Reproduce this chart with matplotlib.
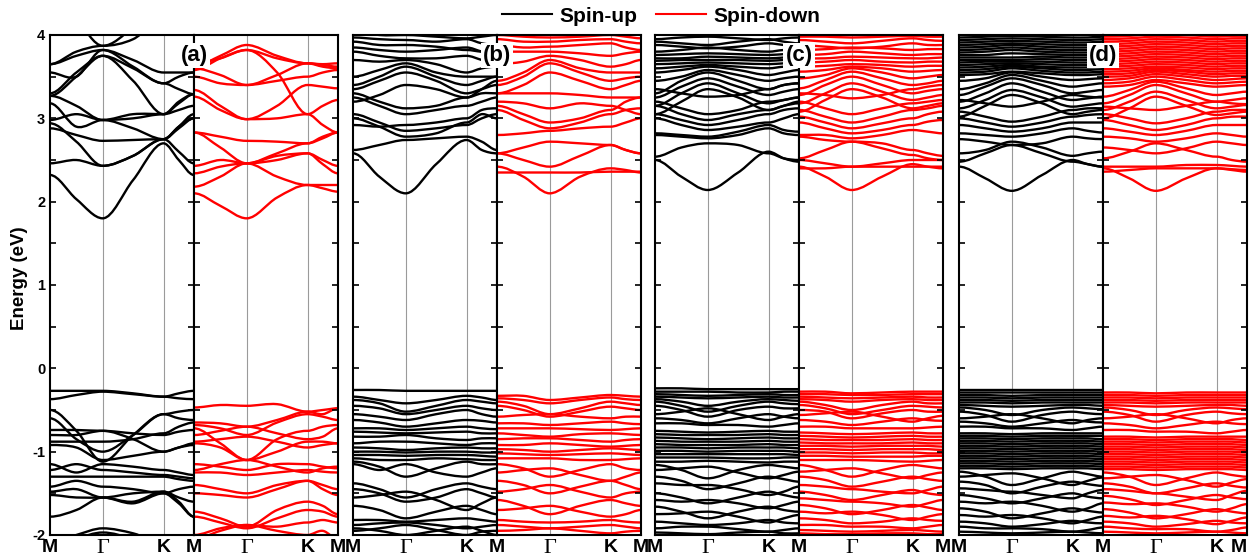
import numpy as np
import matplotlib.pyplot as plt
from matplotlib.lines import Line2D
from matplotlib.path import Path
from matplotlib.patches import PathPatch
from matplotlib.ticker import MultipleLocator

plt.rcParams['font.family'] = ['Liberation Sans', 'DejaVu Sans']
plt.rcParams['font.weight'] = 'bold'
plt.rcParams['axes.unicode_minus'] = False

# k path M - Gamma - K - M, energies read at M, mid, Gamma, mid, K, mid, M
kpts = [0.0, 0.433, 0.866, 1.366, 1.866, 2.116, 2.366]
hsym = [0.0, 0.866, 1.866, 2.366]
hsym_labels = ['M', 'Γ', 'K', 'M']
hsym_idx = {0, 2, 4, 6}   # flat bands at the high-symmetry points

##########  panel (a)

a_up = [
    [2.32, 2.03, 1.80, 2.26, 2.70, 2.50, 2.32],
    [2.46, 2.50, 2.43, 2.55, 2.75, 2.60, 2.46],
    [2.94, 2.72, 2.43, 2.55, 2.75, 2.88, 3.00],
    [2.88, 2.80, 2.73, 2.74, 2.75, 2.90, 3.05],
    [3.18, 2.90, 2.98, 3.05, 3.05, 3.10, 3.15],
    [2.98, 3.05, 2.98, 2.88, 2.75, 2.90, 3.00],
    [3.27, 3.15, 2.98, 3.00, 3.05, 3.18, 3.29],
    [3.27, 3.50, 3.75, 3.45, 3.05, 3.20, 3.29],
    [3.55, 3.50, 3.82, 3.62, 3.42, 3.50, 3.55],
    [3.65, 3.75, 3.82, 3.70, 3.55, 3.55, 3.55],
    [3.30, 3.55, 3.75, 3.60, 3.42, 3.35, 3.29],
    [4.60, 4.20, 3.87, 4.10, 4.50, 4.60, 4.60],
    [3.65, 3.80, 3.87, 3.95, 4.20, 4.30, 4.30],
    [-0.27, -0.27, -0.27, -0.30, -0.34, -0.30, -0.27],
    [-0.37, -0.32, -0.28, -0.31, -0.34, -0.36, -0.37],
    [-0.50, -0.75, -1.12, -0.80, -0.55, -0.52, -0.50],
    [-0.60, -0.85, -1.00, -0.80, -0.55, -0.60, -0.62],
    [-0.74, -0.74, -0.75, -0.78, -0.80, -0.76, -0.74],
    [-0.80, -0.80, -0.75, -0.85, -1.00, -0.95, -0.90],
    [-0.88, -0.88, -0.88, -0.85, -0.78, -0.70, -0.65],
    [-0.92, -0.95, -1.10, -1.05, -1.00, -0.95, -0.92],
    [-1.15, -1.25, -1.15, -1.18, -1.22, -1.25, -1.28],
    [-1.22, -1.15, -1.22, -1.25, -1.28, -1.30, -1.32],
    [-1.30, -1.30, -1.30, -1.30, -1.30, -1.33, -1.35],
    [-1.42, -1.35, -1.42, -1.45, -1.50, -1.45, -1.42],
    [-1.48, -1.45, -1.55, -1.60, -1.48, -1.55, -1.60],
    [-1.52, -1.55, -1.55, -1.62, -1.50, -1.62, -1.78],
    [-1.78, -1.70, -1.55, -1.50, -1.48, -1.60, -1.78],
    [-2.10, -2.00, -1.92, -1.98, -2.10, -2.20, -2.20],
    [-2.20, -2.05, -1.97, -2.05, -2.20, -2.30, -2.30],
]

a_dn = [
    [2.10, 1.95, 1.80, 2.05, 2.20, 2.20, 2.20],
    [2.18, 2.30, 2.46, 2.30, 2.20, 2.16, 2.12],
    [2.34, 2.42, 2.46, 2.50, 2.58, 2.45, 2.34],
    [2.43, 2.50, 2.46, 2.55, 2.58, 2.50, 2.43],
    [2.83, 2.65, 2.46, 2.58, 2.70, 2.78, 2.83],
    [2.83, 2.78, 2.73, 2.72, 2.70, 2.76, 2.83],
    [3.26, 3.10, 2.99, 3.00, 3.05, 3.15, 3.22],
    [3.34, 3.15, 2.99, 3.15, 3.40, 3.38, 3.36],
    [3.50, 3.42, 3.40, 3.45, 3.50, 3.55, 3.58],
    [3.58, 3.72, 3.82, 3.55, 3.05, 2.92, 2.83],
    [3.62, 3.75, 3.88, 3.75, 3.66, 3.64, 3.62],
    [3.66, 3.72, 3.82, 3.72, 3.66, 3.65, 3.66],
    [3.60, 3.52, 3.40, 3.52, 3.66, 3.62, 3.60],
    [-0.47, -0.44, -0.45, -0.43, -0.52, -0.55, -0.48],
    [-0.65, -0.66, -0.70, -0.62, -0.52, -0.50, -0.48],
    [-0.68, -0.72, -0.80, -0.65, -0.55, -0.58, -0.62],
    [-0.72, -0.90, -1.10, -0.85, -0.75, -0.70, -0.68],
    [-0.80, -0.75, -0.70, -0.78, -0.85, -0.82, -0.72],
    [-0.88, -0.85, -0.82, -0.88, -0.95, -0.92, -0.90],
    [-0.90, -0.95, -1.10, -1.00, -0.88, -0.88, -0.90],
    [-1.15, -1.18, -1.22, -1.15, -1.15, -1.18, -1.20],
    [-1.22, -1.15, -1.10, -1.18, -1.25, -1.20, -1.18],
    [-1.25, -1.25, -1.28, -1.25, -1.22, -1.24, -1.25],
    [-1.40, -1.45, -1.50, -1.40, -1.35, -1.40, -1.45],
    [-1.50, -1.52, -1.55, -1.45, -1.35, -1.45, -1.52],
    [-1.72, -1.80, -1.90, -1.70, -1.60, -1.65, -1.75],
    [-1.78, -1.85, -1.92, -1.80, -1.70, -1.72, -1.78],
    [-2.05, -1.95, -1.88, -1.90, -1.85, -1.82, -1.85],
    [-2.00, -1.92, -1.88, -1.95, -2.00, -1.95, -2.05],
]

##########  panel (b)

b_up = [
    [2.58, 2.30, 2.10, 2.45, 2.74, 2.62, 2.58],
    [2.62, 2.68, 2.74, 2.76, 2.78, 2.72, 2.62],
    [3.00, 2.90, 2.78, 2.82, 2.95, 3.05, 3.00],
    [3.05, 2.95, 2.85, 2.88, 2.92, 3.00, 3.05],
    [2.92, 2.90, 2.92, 2.95, 3.00, 3.10, 3.12],
    [3.25, 3.15, 3.05, 3.10, 3.15, 3.20, 3.25],
    [3.30, 3.20, 3.12, 3.15, 3.25, 3.30, 3.30],
    [3.35, 3.45, 3.55, 3.45, 3.30, 3.35, 3.40],
    [3.40, 3.50, 3.62, 3.50, 3.40, 3.45, 3.50],
    [3.50, 3.58, 3.66, 3.55, 3.50, 3.50, 3.50],
    [3.70, 3.68, 3.70, 3.65, 3.55, 3.60, 3.62],
    [3.80, 3.75, 3.72, 3.72, 3.75, 3.70, 3.65],
    [3.85, 3.82, 3.80, 3.82, 3.85, 3.80, 3.75],
    [3.92, 3.88, 3.88, 3.86, 3.82, 3.80, 3.80],
    [3.97, 3.95, 3.94, 3.92, 3.95, 3.90, 3.88],
    [4.05, 4.00, 4.00, 3.98, 3.96, 3.98, 4.00],
    [3.20, 3.28, 3.40, 3.35, 3.25, 3.35, 3.45],
    [-0.26, -0.26, -0.27, -0.27, -0.27, -0.27, -0.27],
    [-0.34, -0.38, -0.42, -0.38, -0.33, -0.35, -0.38],
    [-0.38, -0.42, -0.52, -0.45, -0.38, -0.40, -0.42],
    [-0.45, -0.48, -0.55, -0.50, -0.45, -0.48, -0.50],
    [-0.55, -0.58, -0.62, -0.55, -0.50, -0.55, -0.58],
    [-0.62, -0.65, -0.70, -0.66, -0.62, -0.63, -0.65],
    [-0.72, -0.72, -0.74, -0.72, -0.70, -0.72, -0.73],
    [-0.76, -0.77, -0.78, -0.77, -0.76, -0.78, -0.78],
    [-0.82, -0.82, -0.80, -0.84, -0.86, -0.84, -0.84],
    [-0.90, -0.88, -0.88, -0.90, -0.92, -0.90, -0.90],
    [-0.95, -0.96, -0.98, -0.96, -0.95, -0.96, -0.96],
    [-1.00, -1.00, -1.01, -1.00, -1.00, -1.01, -1.01],
    [-1.04, -1.04, -1.05, -1.04, -1.04, -1.05, -1.06],
    [-1.08, -1.10, -1.10, -1.08, -1.09, -1.10, -1.10],
    [-1.12, -1.18, -1.30, -1.20, -1.12, -1.15, -1.15],
    [-1.15, -1.22, -1.15, -1.25, -1.30, -1.25, -1.20],
    [-1.38, -1.45, -1.55, -1.45, -1.38, -1.42, -1.45],
    [-1.45, -1.50, -1.60, -1.55, -1.45, -1.50, -1.55],
    [-1.55, -1.52, -1.48, -1.58, -1.70, -1.62, -1.55],
    [-1.65, -1.70, -1.80, -1.72, -1.65, -1.70, -1.75],
    [-1.82, -1.82, -1.84, -1.82, -1.80, -1.82, -1.84],
    [-1.88, -1.86, -1.85, -1.88, -1.92, -1.90, -1.88],
    [-1.95, -1.92, -1.88, -1.94, -2.00, -1.96, -1.95],
    [-1.92, -1.95, -2.00, -1.95, -1.90, -1.95, -2.00],
]

b_dn = [
    [2.42, 2.30, 2.10, 2.30, 2.40, 2.38, 2.35],
    [2.35, 2.35, 2.35, 2.35, 2.36, 2.36, 2.36],
    [2.58, 2.50, 2.42, 2.55, 2.68, 2.62, 2.58],
    [2.58, 2.65, 2.72, 2.70, 2.68, 2.62, 2.58],
    [2.80, 2.82, 2.85, 2.88, 2.90, 2.95, 3.00],
    [3.10, 2.98, 2.88, 2.95, 3.05, 3.10, 3.12],
    [3.15, 3.05, 2.95, 3.00, 3.10, 3.20, 3.25],
    [3.30, 3.30, 3.30, 3.28, 3.25, 3.25, 3.25],
    [3.30, 3.40, 3.55, 3.45, 3.35, 3.40, 3.45],
    [3.40, 3.50, 3.66, 3.55, 3.45, 3.48, 3.50],
    [3.45, 3.55, 3.70, 3.60, 3.55, 3.55, 3.55],
    [3.65, 3.68, 3.75, 3.70, 3.62, 3.65, 3.70],
    [3.80, 3.80, 3.80, 3.78, 3.75, 3.78, 3.80],
    [3.88, 3.85, 3.86, 3.88, 3.90, 3.85, 3.82],
    [3.95, 3.92, 3.92, 3.94, 3.95, 3.92, 3.90],
    [4.00, 3.98, 3.97, 3.98, 4.00, 3.98, 3.96],
    [3.20, 3.18, 3.12, 3.18, 3.15, 3.10, 3.05],
    [-0.33, -0.33, -0.38, -0.35, -0.32, -0.33, -0.34],
    [-0.36, -0.38, -0.42, -0.38, -0.35, -0.37, -0.38],
    [-0.40, -0.45, -0.55, -0.48, -0.40, -0.42, -0.44],
    [-0.45, -0.50, -0.58, -0.52, -0.46, -0.48, -0.50],
    [-0.58, -0.56, -0.55, -0.58, -0.60, -0.58, -0.58],
    [-0.66, -0.66, -0.68, -0.66, -0.64, -0.66, -0.67],
    [-0.72, -0.72, -0.72, -0.73, -0.74, -0.73, -0.72],
    [-0.78, -0.80, -0.82, -0.79, -0.78, -0.79, -0.80],
    [-0.85, -0.84, -0.84, -0.86, -0.88, -0.86, -0.85],
    [-0.92, -0.92, -0.90, -0.92, -0.94, -0.93, -0.92],
    [-0.97, -0.98, -1.00, -0.98, -0.96, -0.97, -0.98],
    [-1.02, -1.03, -1.04, -1.03, -1.02, -1.03, -1.04],
    [-1.08, -1.08, -1.08, -1.10, -1.10, -1.09, -1.08],
    [-1.15, -1.20, -1.30, -1.22, -1.15, -1.20, -1.22],
    [-1.25, -1.22, -1.20, -1.28, -1.35, -1.30, -1.25],
    [-1.35, -1.40, -1.50, -1.42, -1.35, -1.40, -1.45],
    [-1.48, -1.45, -1.40, -1.48, -1.55, -1.50, -1.48],
    [-1.58, -1.65, -1.75, -1.65, -1.58, -1.62, -1.65],
    [-1.70, -1.68, -1.65, -1.72, -1.78, -1.75, -1.70],
    [-1.82, -1.84, -1.85, -1.84, -1.82, -1.84, -1.85],
    [-1.88, -1.90, -1.92, -1.90, -1.88, -1.90, -1.92],
    [-1.95, -1.94, -1.92, -1.95, -1.98, -1.96, -1.95],
]

##########  panel (c)

c_up = [
    [2.50, 2.30, 2.14, 2.35, 2.60, 2.52, 2.48],
    [2.54, 2.65, 2.70, 2.68, 2.58, 2.52, 2.50],
    [2.80, 2.78, 2.76, 2.80, 2.88, 2.82, 2.80],
    [2.82, 2.80, 2.78, 2.84, 2.92, 2.86, 2.84],
    [3.00, 2.92, 2.86, 2.90, 2.95, 3.00, 3.05],
    [3.05, 2.98, 2.92, 2.98, 3.05, 3.10, 3.12],
    [3.15, 3.05, 2.98, 3.05, 3.10, 3.15, 3.18],
    [3.20, 3.12, 3.05, 3.10, 3.20, 3.22, 3.25],
    [3.05, 3.20, 3.35, 3.25, 3.10, 3.15, 3.20],
    [3.15, 3.30, 3.42, 3.30, 3.18, 3.22, 3.25],
    [3.25, 3.38, 3.48, 3.38, 3.28, 3.32, 3.35],
    [3.30, 3.45, 3.55, 3.45, 3.35, 3.40, 3.42],
    [3.45, 3.50, 3.58, 3.52, 3.45, 3.48, 3.50],
    [3.55, 3.58, 3.62, 3.58, 3.52, 3.55, 3.58],
    [3.60, 3.62, 3.64, 3.62, 3.60, 3.62, 3.62],
    [3.65, 3.66, 3.67, 3.66, 3.65, 3.66, 3.66],
    [3.69, 3.70, 3.70, 3.70, 3.69, 3.70, 3.70],
    [3.72, 3.72, 3.74, 3.73, 3.72, 3.73, 3.74],
    [3.76, 3.77, 3.78, 3.77, 3.76, 3.77, 3.77],
    [3.80, 3.82, 3.85, 3.82, 3.80, 3.82, 3.82],
    [3.88, 3.86, 3.84, 3.86, 3.90, 3.88, 3.86],
    [3.92, 3.90, 3.88, 3.92, 3.95, 3.92, 3.90],
    [3.95, 3.97, 3.98, 3.96, 3.94, 3.96, 3.97],
    [3.35, 3.30, 3.26, 3.28, 3.35, 3.40, 3.42],
    [-0.24, -0.24, -0.25, -0.25, -0.25, -0.25, -0.25],
    [-0.28, -0.28, -0.28, -0.29, -0.29, -0.28, -0.28],
    [-0.31, -0.32, -0.33, -0.32, -0.31, -0.32, -0.32],
    [-0.34, -0.35, -0.36, -0.35, -0.34, -0.35, -0.35],
    [-0.37, -0.40, -0.45, -0.40, -0.37, -0.38, -0.39],
    [-0.40, -0.45, -0.52, -0.45, -0.40, -0.42, -0.43],
    [-0.45, -0.50, -0.58, -0.50, -0.46, -0.48, -0.48],
    [-0.55, -0.52, -0.48, -0.55, -0.62, -0.58, -0.55],
    [-0.60, -0.62, -0.66, -0.60, -0.55, -0.58, -0.60],
    [-0.66, -0.66, -0.68, -0.68, -0.70, -0.68, -0.66],
    [-0.75, -0.76, -0.77, -0.76, -0.75, -0.76, -0.76],
    [-0.79, -0.80, -0.80, -0.80, -0.79, -0.80, -0.80],
    [-0.83, -0.84, -0.85, -0.84, -0.83, -0.84, -0.84],
    [-0.87, -0.88, -0.88, -0.88, -0.87, -0.88, -0.88],
    [-0.91, -0.92, -0.92, -0.92, -0.91, -0.92, -0.92],
    [-0.95, -0.95, -0.96, -0.95, -0.95, -0.95, -0.96],
    [-0.99, -0.99, -1.00, -0.99, -0.99, -0.99, -1.00],
    [-1.03, -1.03, -1.03, -1.03, -1.03, -1.03, -1.04],
    [-1.07, -1.07, -1.07, -1.08, -1.08, -1.07, -1.07],
    [-1.12, -1.12, -1.11, -1.12, -1.13, -1.12, -1.12],
    [-1.16, -1.22, -1.32, -1.22, -1.16, -1.18, -1.20],
    [-1.22, -1.20, -1.18, -1.25, -1.32, -1.28, -1.24],
    [-1.30, -1.35, -1.45, -1.38, -1.30, -1.33, -1.36],
    [-1.38, -1.40, -1.40, -1.45, -1.52, -1.48, -1.42],
    [-1.50, -1.55, -1.62, -1.55, -1.48, -1.52, -1.55],
    [-1.58, -1.60, -1.58, -1.62, -1.68, -1.64, -1.60],
    [-1.66, -1.72, -1.80, -1.72, -1.66, -1.70, -1.72],
    [-1.75, -1.74, -1.72, -1.78, -1.85, -1.80, -1.76],
    [-1.84, -1.86, -1.88, -1.86, -1.82, -1.85, -1.86],
    [-1.92, -1.90, -1.90, -1.93, -1.96, -1.94, -1.92],
    [-1.97, -1.98, -1.99, -1.97, -1.96, -1.98, -1.98],
]

c_dn = [
    [2.42, 2.30, 2.14, 2.30, 2.45, 2.42, 2.40],
    [2.40, 2.40, 2.42, 2.42, 2.42, 2.42, 2.42],
    [2.50, 2.46, 2.42, 2.46, 2.50, 2.50, 2.50],
    [2.52, 2.62, 2.72, 2.64, 2.56, 2.52, 2.50],
    [2.78, 2.74, 2.72, 2.70, 2.62, 2.58, 2.55],
    [2.80, 2.80, 2.76, 2.80, 2.86, 2.84, 2.82],
    [2.95, 2.88, 2.82, 2.86, 2.92, 2.96, 2.98],
    [3.02, 2.95, 2.88, 2.94, 3.00, 3.05, 3.08],
    [3.10, 3.02, 2.95, 3.02, 3.10, 3.12, 3.15],
    [3.20, 3.12, 3.05, 3.12, 3.18, 3.20, 3.22],
    [3.08, 3.22, 3.35, 3.25, 3.12, 3.15, 3.18],
    [3.18, 3.30, 3.42, 3.32, 3.22, 3.25, 3.28],
    [3.28, 3.40, 3.50, 3.40, 3.30, 3.33, 3.35],
    [3.36, 3.46, 3.56, 3.48, 3.40, 3.42, 3.45],
    [3.48, 3.52, 3.60, 3.55, 3.48, 3.50, 3.52],
    [3.56, 3.58, 3.62, 3.60, 3.56, 3.57, 3.58],
    [3.62, 3.63, 3.65, 3.64, 3.62, 3.63, 3.63],
    [3.67, 3.68, 3.70, 3.68, 3.67, 3.68, 3.68],
    [3.72, 3.72, 3.74, 3.73, 3.72, 3.72, 3.73],
    [3.76, 3.77, 3.80, 3.78, 3.76, 3.77, 3.77],
    [3.82, 3.83, 3.85, 3.84, 3.82, 3.83, 3.83],
    [3.88, 3.86, 3.84, 3.86, 3.90, 3.88, 3.88],
    [3.94, 3.92, 3.90, 3.93, 3.96, 3.94, 3.93],
    [3.98, 3.98, 3.97, 3.98, 3.99, 3.98, 3.98],
    [3.30, 3.28, 3.24, 3.28, 3.35, 3.38, 3.40],
    [-0.28, -0.28, -0.30, -0.29, -0.28, -0.28, -0.28],
    [-0.31, -0.31, -0.32, -0.32, -0.31, -0.31, -0.31],
    [-0.34, -0.35, -0.36, -0.35, -0.34, -0.35, -0.35],
    [-0.37, -0.38, -0.40, -0.38, -0.37, -0.38, -0.38],
    [-0.40, -0.44, -0.50, -0.44, -0.40, -0.42, -0.42],
    [-0.44, -0.48, -0.55, -0.50, -0.45, -0.46, -0.47],
    [-0.50, -0.52, -0.60, -0.54, -0.50, -0.52, -0.52],
    [-0.56, -0.54, -0.52, -0.58, -0.64, -0.60, -0.57],
    [-0.62, -0.64, -0.68, -0.64, -0.60, -0.62, -0.63],
    [-0.70, -0.70, -0.72, -0.72, -0.72, -0.71, -0.70],
    [-0.77, -0.78, -0.79, -0.78, -0.77, -0.78, -0.78],
    [-0.81, -0.82, -0.83, -0.82, -0.81, -0.82, -0.82],
    [-0.85, -0.86, -0.86, -0.86, -0.85, -0.86, -0.86],
    [-0.89, -0.90, -0.90, -0.90, -0.89, -0.90, -0.90],
    [-0.93, -0.93, -0.94, -0.93, -0.93, -0.93, -0.94],
    [-0.97, -0.97, -0.98, -0.97, -0.97, -0.97, -0.98],
    [-1.01, -1.01, -1.02, -1.01, -1.01, -1.02, -1.02],
    [-1.05, -1.05, -1.06, -1.06, -1.06, -1.05, -1.05],
    [-1.10, -1.10, -1.10, -1.11, -1.12, -1.11, -1.10],
    [-1.16, -1.22, -1.30, -1.22, -1.16, -1.18, -1.20],
    [-1.24, -1.22, -1.20, -1.26, -1.32, -1.28, -1.25],
    [-1.30, -1.34, -1.42, -1.36, -1.30, -1.33, -1.35],
    [-1.40, -1.42, -1.45, -1.48, -1.50, -1.46, -1.42],
    [-1.48, -1.52, -1.58, -1.52, -1.46, -1.50, -1.52],
    [-1.56, -1.58, -1.60, -1.62, -1.66, -1.62, -1.58],
    [-1.64, -1.68, -1.75, -1.70, -1.64, -1.67, -1.70],
    [-1.72, -1.74, -1.72, -1.76, -1.82, -1.78, -1.75],
    [-1.80, -1.82, -1.86, -1.84, -1.80, -1.82, -1.83],
    [-1.88, -1.88, -1.90, -1.90, -1.92, -1.90, -1.88],
    [-1.94, -1.95, -1.96, -1.95, -1.94, -1.95, -1.96],
    [-1.98, -1.99, -1.99, -1.98, -1.98, -1.99, -1.99],
]

##########  panel (d)

d_up = [
    [2.42, 2.28, 2.13, 2.32, 2.50, 2.45, 2.42],
    [2.48, 2.58, 2.68, 2.58, 2.48, 2.45, 2.42],
    [2.58, 2.62, 2.72, 2.65, 2.55, 2.58, 2.60],
    [2.75, 2.72, 2.68, 2.70, 2.78, 2.76, 2.75],
    [2.82, 2.80, 2.78, 2.82, 2.88, 2.85, 2.83],
    [2.92, 2.88, 2.84, 2.88, 2.95, 2.95, 2.95],
    [3.00, 2.95, 2.90, 2.95, 3.02, 3.04, 3.05],
    [3.08, 3.02, 2.96, 3.02, 3.10, 3.12, 3.12],
    [3.02, 3.15, 3.28, 3.18, 3.05, 3.08, 3.10],
    [3.12, 3.22, 3.34, 3.25, 3.14, 3.16, 3.18],
    [3.20, 3.30, 3.42, 3.32, 3.22, 3.24, 3.26],
    [3.28, 3.38, 3.48, 3.40, 3.30, 3.32, 3.34],
    [3.35, 3.42, 3.52, 3.45, 3.38, 3.40, 3.42],
    [3.22, 3.18, 3.14, 3.20, 3.28, 3.26, 3.25],
    [3.45, 3.48, 3.55, 3.50, 3.46, 3.47, 3.48],
    [3.52, 3.53, 3.56, 3.54, 3.52, 3.52, 3.53],
    [3.55, 3.56, 3.60, 3.57, 3.55, 3.55, 3.56],
    [3.58, 3.59, 3.62, 3.60, 3.58, 3.58, 3.59],
    [3.61, 3.62, 3.64, 3.62, 3.61, 3.61, 3.62],
    [3.64, 3.65, 3.66, 3.65, 3.64, 3.64, 3.65],
    [3.67, 3.68, 3.68, 3.68, 3.67, 3.67, 3.68],
    [3.70, 3.70, 3.70, 3.71, 3.70, 3.70, 3.71],
    [3.73, 3.73, 3.73, 3.74, 3.73, 3.73, 3.74],
    [3.76, 3.76, 3.78, 3.77, 3.76, 3.76, 3.77],
    [3.79, 3.80, 3.82, 3.80, 3.79, 3.79, 3.80],
    [3.82, 3.83, 3.85, 3.83, 3.82, 3.82, 3.83],
    [3.85, 3.86, 3.88, 3.86, 3.85, 3.85, 3.86],
    [3.88, 3.89, 3.90, 3.89, 3.88, 3.88, 3.89],
    [3.91, 3.92, 3.93, 3.92, 3.91, 3.91, 3.92],
    [3.94, 3.95, 3.96, 3.95, 3.94, 3.94, 3.95],
    [3.97, 3.98, 3.99, 3.98, 3.97, 3.97, 3.98],
    [-0.26, -0.26, -0.26, -0.26, -0.26, -0.26, -0.26],
    [-0.29, -0.29, -0.29, -0.29, -0.29, -0.29, -0.29],
    [-0.32, -0.32, -0.33, -0.32, -0.32, -0.32, -0.32],
    [-0.35, -0.35, -0.36, -0.35, -0.35, -0.35, -0.35],
    [-0.38, -0.38, -0.39, -0.38, -0.38, -0.38, -0.38],
    [-0.41, -0.41, -0.42, -0.41, -0.41, -0.41, -0.41],
    [-0.44, -0.45, -0.46, -0.45, -0.44, -0.44, -0.45],
    [-0.47, -0.50, -0.56, -0.50, -0.47, -0.48, -0.49],
    [-0.52, -0.56, -0.64, -0.56, -0.52, -0.54, -0.55],
    [-0.60, -0.58, -0.55, -0.60, -0.66, -0.62, -0.60],
    [-0.64, -0.66, -0.70, -0.66, -0.62, -0.64, -0.65],
    [-0.70, -0.70, -0.72, -0.72, -0.74, -0.72, -0.70],
    [-0.78, -0.78, -0.79, -0.78, -0.78, -0.78, -0.78],
    [-0.81, -0.81, -0.82, -0.81, -0.81, -0.81, -0.81],
    [-0.84, -0.84, -0.85, -0.84, -0.84, -0.84, -0.85],
    [-0.87, -0.87, -0.88, -0.87, -0.87, -0.87, -0.88],
    [-0.90, -0.90, -0.91, -0.90, -0.90, -0.90, -0.91],
    [-0.93, -0.93, -0.94, -0.93, -0.93, -0.93, -0.94],
    [-0.96, -0.96, -0.97, -0.96, -0.96, -0.96, -0.97],
    [-0.99, -0.99, -1.00, -0.99, -0.99, -0.99, -1.00],
    [-1.02, -1.02, -1.03, -1.02, -1.02, -1.02, -1.03],
    [-1.05, -1.05, -1.06, -1.05, -1.05, -1.05, -1.06],
    [-1.08, -1.08, -1.09, -1.08, -1.08, -1.08, -1.09],
    [-1.11, -1.11, -1.12, -1.11, -1.11, -1.11, -1.12],
    [-1.14, -1.14, -1.15, -1.14, -1.14, -1.14, -1.15],
    [-1.17, -1.17, -1.18, -1.17, -1.17, -1.17, -1.18],
    [-1.20, -1.20, -1.21, -1.20, -1.20, -1.20, -1.21],
    [-1.24, -1.30, -1.40, -1.32, -1.24, -1.27, -1.30],
    [-1.30, -1.28, -1.26, -1.32, -1.40, -1.35, -1.31],
    [-1.36, -1.40, -1.50, -1.42, -1.36, -1.39, -1.41],
    [-1.44, -1.46, -1.48, -1.52, -1.56, -1.50, -1.46],
    [-1.52, -1.56, -1.62, -1.56, -1.50, -1.54, -1.56],
    [-1.60, -1.62, -1.60, -1.65, -1.72, -1.68, -1.62],
    [-1.68, -1.72, -1.80, -1.74, -1.68, -1.71, -1.73],
    [-1.76, -1.78, -1.76, -1.80, -1.86, -1.82, -1.78],
    [-1.84, -1.86, -1.90, -1.87, -1.83, -1.85, -1.86],
    [-1.90, -1.92, -1.92, -1.93, -1.96, -1.94, -1.91],
    [-1.96, -1.97, -1.98, -1.97, -1.96, -1.97, -1.98],
]

d_dn = [
    [2.40, 2.28, 2.13, 2.28, 2.40, 2.38, 2.36],
    [2.36, 2.38, 2.40, 2.40, 2.40, 2.39, 2.38],
    [2.42, 2.42, 2.42, 2.44, 2.44, 2.43, 2.42],
    [2.52, 2.60, 2.70, 2.62, 2.54, 2.50, 2.48],
    [2.65, 2.62, 2.58, 2.64, 2.72, 2.70, 2.68],
    [2.78, 2.76, 2.72, 2.76, 2.82, 2.80, 2.78],
    [2.88, 2.84, 2.80, 2.85, 2.92, 2.92, 2.92],
    [2.98, 2.92, 2.86, 2.92, 3.00, 3.02, 3.02],
    [3.05, 3.00, 2.94, 3.00, 3.08, 3.10, 3.10],
    [3.00, 3.12, 3.26, 3.15, 3.04, 3.06, 3.08],
    [3.10, 3.20, 3.32, 3.22, 3.12, 3.14, 3.16],
    [3.18, 3.28, 3.40, 3.30, 3.20, 3.22, 3.24],
    [3.26, 3.34, 3.44, 3.36, 3.28, 3.30, 3.32],
    [3.14, 3.12, 3.10, 3.15, 3.20, 3.18, 3.17],
    [3.38, 3.40, 3.46, 3.42, 3.38, 3.39, 3.40],
    [3.42, 3.44, 3.50, 3.46, 3.42, 3.43, 3.44],
    [3.46, 3.48, 3.53, 3.50, 3.46, 3.47, 3.48],
    [3.50, 3.51, 3.56, 3.53, 3.50, 3.51, 3.51],
    [3.53, 3.54, 3.58, 3.56, 3.53, 3.54, 3.54],
    [3.56, 3.57, 3.60, 3.58, 3.56, 3.57, 3.57],
    [3.59, 3.60, 3.62, 3.61, 3.59, 3.60, 3.60],
    [3.62, 3.63, 3.65, 3.64, 3.62, 3.63, 3.63],
    [3.65, 3.66, 3.68, 3.67, 3.65, 3.66, 3.66],
    [3.68, 3.69, 3.71, 3.70, 3.68, 3.69, 3.69],
    [3.71, 3.72, 3.74, 3.73, 3.71, 3.72, 3.72],
    [3.74, 3.75, 3.77, 3.76, 3.74, 3.75, 3.75],
    [3.77, 3.78, 3.80, 3.79, 3.77, 3.78, 3.78],
    [3.80, 3.81, 3.83, 3.82, 3.80, 3.81, 3.81],
    [3.83, 3.84, 3.86, 3.85, 3.83, 3.84, 3.84],
    [3.86, 3.87, 3.89, 3.88, 3.86, 3.87, 3.87],
    [3.89, 3.90, 3.92, 3.91, 3.89, 3.90, 3.90],
    [3.92, 3.93, 3.95, 3.94, 3.92, 3.93, 3.93],
    [3.95, 3.96, 3.98, 3.97, 3.95, 3.96, 3.96],
    [3.98, 3.99, 4.01, 4.00, 3.98, 3.99, 3.99],
    [-0.29, -0.29, -0.30, -0.29, -0.29, -0.29, -0.29],
    [-0.32, -0.32, -0.33, -0.32, -0.32, -0.32, -0.32],
    [-0.35, -0.35, -0.36, -0.35, -0.35, -0.35, -0.35],
    [-0.38, -0.38, -0.39, -0.38, -0.38, -0.38, -0.38],
    [-0.41, -0.41, -0.42, -0.41, -0.41, -0.41, -0.41],
    [-0.44, -0.45, -0.46, -0.45, -0.44, -0.44, -0.45],
    [-0.47, -0.50, -0.56, -0.50, -0.47, -0.48, -0.49],
    [-0.52, -0.56, -0.64, -0.56, -0.52, -0.54, -0.55],
    [-0.60, -0.58, -0.55, -0.60, -0.66, -0.62, -0.60],
    [-0.66, -0.68, -0.72, -0.68, -0.64, -0.66, -0.67],
    [-0.74, -0.74, -0.76, -0.76, -0.78, -0.76, -0.74],
    [-0.82, -0.82, -0.83, -0.82, -0.82, -0.82, -0.82],
    [-0.85, -0.85, -0.86, -0.85, -0.85, -0.85, -0.86],
    [-0.88, -0.88, -0.89, -0.88, -0.88, -0.88, -0.89],
    [-0.91, -0.91, -0.92, -0.91, -0.91, -0.91, -0.92],
    [-0.94, -0.94, -0.95, -0.94, -0.94, -0.94, -0.95],
    [-0.97, -0.97, -0.98, -0.97, -0.97, -0.97, -0.98],
    [-1.00, -1.00, -1.01, -1.00, -1.00, -1.00, -1.01],
    [-1.03, -1.03, -1.04, -1.03, -1.03, -1.03, -1.04],
    [-1.06, -1.06, -1.07, -1.06, -1.06, -1.06, -1.07],
    [-1.09, -1.09, -1.10, -1.09, -1.09, -1.09, -1.10],
    [-1.12, -1.12, -1.13, -1.12, -1.12, -1.12, -1.13],
    [-1.15, -1.15, -1.16, -1.15, -1.15, -1.15, -1.16],
    [-1.18, -1.18, -1.19, -1.18, -1.18, -1.18, -1.19],
    [-1.21, -1.21, -1.22, -1.21, -1.21, -1.21, -1.22],
    [-1.25, -1.30, -1.40, -1.32, -1.25, -1.28, -1.30],
    [-1.32, -1.30, -1.28, -1.34, -1.42, -1.37, -1.33],
    [-1.38, -1.42, -1.50, -1.44, -1.38, -1.41, -1.43],
    [-1.45, -1.47, -1.50, -1.54, -1.58, -1.52, -1.47],
    [-1.53, -1.57, -1.64, -1.58, -1.52, -1.55, -1.57],
    [-1.61, -1.63, -1.62, -1.66, -1.72, -1.68, -1.63],
    [-1.69, -1.73, -1.80, -1.75, -1.69, -1.72, -1.74],
    [-1.77, -1.79, -1.77, -1.81, -1.87, -1.83, -1.79],
    [-1.84, -1.86, -1.90, -1.87, -1.83, -1.85, -1.86],
    [-1.90, -1.92, -1.93, -1.93, -1.96, -1.94, -1.91],
    [-1.96, -1.97, -1.98, -1.97, -1.96, -1.97, -1.98],
]

panels = [('(a)', a_up, a_dn), ('(b)', b_up, b_dn),
          ('(c)', c_up, c_dn), ('(d)', d_up, d_dn)]

W, H = 1252, 560
panel_left = [50, 353, 655, 959]   # px, each panel = two halves of 144 px
half_w = 144


def band_path(k, e):
    # smooth Bezier through the read-off energies, flat at M, Gamma, K
    n = len(k)
    slope = []
    for i in range(n):
        if i in hsym_idx:
            slope.append(0.0)
        else:
            slope.append((e[i + 1] - e[i - 1]) / (k[i + 1] - k[i - 1]))
    verts = [(k[0], e[0])]
    codes = [Path.MOVETO]
    for i in range(n - 1):
        h = k[i + 1] - k[i]
        verts += [(k[i] + h / 3, e[i] + slope[i] * h / 3),
                  (k[i + 1] - h / 3, e[i + 1] - slope[i + 1] * h / 3),
                  (k[i + 1], e[i + 1])]
        codes += [Path.CURVE4] * 3
    return Path(verts, codes)


fig = plt.figure(figsize=(W / 100, H / 100), dpi=100)

for i, (tag, up, dn) in enumerate(panels):
    for j, (bands, col) in enumerate([(up, 'black'), (dn, 'red')]):
        x0 = panel_left[i] + j * half_w
        ax = fig.add_axes([x0 / W, 25 / H, half_w / W, 500 / H])
        for b in bands:
            ax.add_patch(PathPatch(band_path(kpts, b), fill=False, edgecolor=col,
                                   lw=1.7, capstyle='round', joinstyle='round'))
        for k in hsym[1:3]:
            ax.axvline(k, color='#9a9a9a', lw=0.8, zorder=0)
        ax.set_xlim(hsym[0], hsym[-1])
        ax.set_ylim(-2, 4)
        ax.yaxis.set_major_locator(MultipleLocator(1))
        ax.yaxis.set_minor_locator(MultipleLocator(0.5))
        ax.tick_params(axis='y', which='both', direction='in', left=True, right=True,
                       length=4, width=1.2, labelleft=(i == 0 and j == 0), labelsize=10.5)
        ax.set_xticks(hsym)
        if j == 0:
            ax.set_xticklabels(hsym_labels)
        else:
            ax.set_xticklabels([''] + hsym_labels[1:])
        ax.tick_params(axis='x', length=0, labelsize=14, pad=3)
        xl = ax.get_xticklabels()
        for t in xl:
            if t.get_text() == 'Γ':
                t.set_fontfamily('Liberation Serif')
                t.set_fontweight('normal')
                t.set_fontsize(16)
        if i == 3 and j == 1:
            xl[-1].set_horizontalalignment('right')
        for s in ax.spines.values():
            s.set_linewidth(1.5)

    fig.text((panel_left[i] + half_w) / W, 1 - 55 / H, tag, ha='center', va='center',
             fontsize=16, fontweight='bold', zorder=10,
             bbox=dict(facecolor='white', edgecolor='none', pad=1.5))

fig.text(20 / W, 1 - 278 / H, 'Energy (eV)', rotation=90, ha='center', va='center',
         fontsize=13.5, fontweight='bold')

handles = [Line2D([], [], color='black', lw=1.5, label='Spin-up'),
           Line2D([], [], color='red', lw=1.5, label='Spin-down')]
fig.legend(handles=handles, loc='center', bbox_to_anchor=(661 / W, 1 - 16 / H), ncol=2,
           frameon=False, handlelength=2.4, handletextpad=0.35, columnspacing=0.9,
           prop={'weight': 'bold', 'size': 15})

fig.savefig('out.png', dpi=100)
